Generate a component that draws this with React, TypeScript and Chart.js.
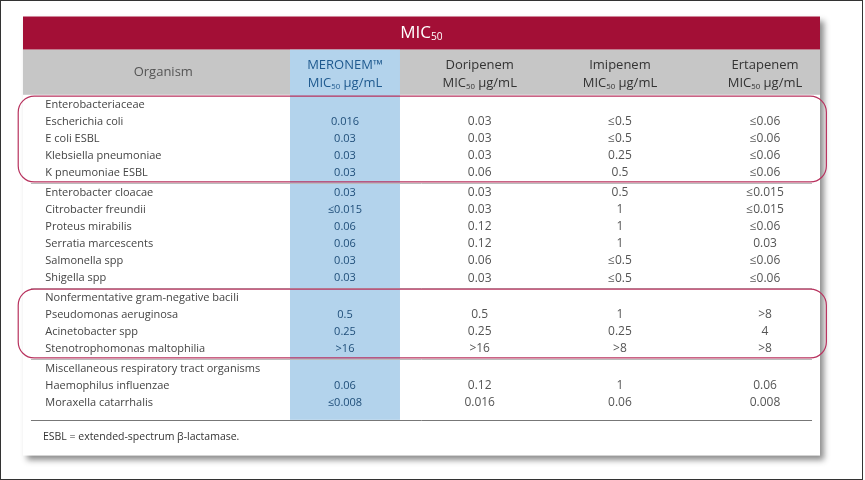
import React, { useEffect, useRef } from 'react';
import Chart from 'chart.js/auto';

const groups: string[] = [
  'Enterobacteriaceae',
  '',
  'Nonfermentative gram-negative bacili',
  'Miscellaneous respiratory tract organisms',
];
const organisms: string[][] = [
  ['Escherichia coli', 'E coli ESBL', 'Klebsiella pneumoniae', 'K pneumoniae ESBL'],
  ['Enterobacter cloacae', 'Citrobacter freundii', 'Proteus mirabilis', 'Serratia marcescents', 'Salmonella spp', 'Shigella spp'],
  ['Pseudomonas aeruginosa', 'Acinetobacter spp', 'Stenotrophomonas maltophilia'],
  ['Haemophilus influenzae', 'Moraxella catarrhalis'],
];
const meronem: string[][] = [
  ['0.016', '0.03', '0.03', '0.03'],
  ['0.03', '≤0.015', '0.06', '0.06', '0.03', '0.03'],
  ['0.5', '0.25', '>16'],
  ['0.06', '≤0.008'],
];
const doripenem: string[][] = [
  ['0.03', '0.03', '0.03', '0.06'],
  ['0.03', '0.03', '0.12', '0.12', '0.06', '0.03'],
  ['0.5', '0.25', '>16'],
  ['0.12', '0.016'],
];
const imipenem: string[][] = [
  ['≤0.5', '≤0.5', '0.25', '0.5'],
  ['0.5', '1', '1', '1', '≤0.5', '≤0.5'],
  ['1', '0.25', '>8'],
  ['1', '0.06'],
];
const ertapenem: string[][] = [
  ['≤0.06', '≤0.06', '≤0.06', '≤0.06'],
  ['≤0.015', '≤0.015', '≤0.06', '0.03', '≤0.06', '≤0.06'],
  ['>8', '4', '>8'],
  ['0.06', '0.008'],
];
const columns: string[] = ['Doripenem', 'Imipenem', 'Ertapenem'];
const footnote = 'ESBL = extended-spectrum β-lactamase.';

const FONT = '"Open Sans", sans-serif';
const GAP = 0.17;

// build row list with y positions (row units)
type Row = { label: string; vals: string[]; group: number; pos: number };
const rows: Row[] = [];
let idx = 0;
groups.forEach((g, gi) => {
  if (g) {
    rows.push({ label: g, vals: [], group: gi, pos: idx + gi * GAP });
    idx++;
  }
  organisms[gi].forEach((o, oi) => {
    rows.push({
      label: o,
      vals: [meronem[gi][oi], doripenem[gi][oi], imipenem[gi][oi], ertapenem[gi][oi]],
      group: gi,
      pos: idx + gi * GAP,
    });
    idx++;
  });
});

const colX = [4.04, 5.73, 7.49, 9.31];

function drawMic(ctx: CanvasRenderingContext2D, x: number, y: number, size: number, suffix: string) {
  ctx.font = `${size}px ${FONT}`;
  const a = ctx.measureText('MIC').width;
  ctx.font = `${size * 0.6}px ${FONT}`;
  const b = ctx.measureText('50').width;
  ctx.font = `${size}px ${FONT}`;
  const c = ctx.measureText(suffix).width;
  let sx = x - (a + b + c) / 2;
  ctx.textAlign = 'left';
  ctx.fillText('MIC', sx, y);
  ctx.font = `${size * 0.6}px ${FONT}`;
  ctx.fillText('50', sx + a, y + size * 0.25);
  ctx.font = `${size}px ${FONT}`;
  ctx.fillText(suffix, sx + a + b, y);
}

const tablePlugin = {
  id: 'table',
  beforeDraw(chart: Chart) {
    const ctx = chart.ctx;
    const xs = chart.scales.x;
    const ys = chart.scales.y;
    const X = (v: number) => xs.getPixelForValue(v);
    const Y = (v: number) => ys.getPixelForValue(v);
    const L = X(0), R = X(10);
    const top = Y(-5.2), bottom = Y(18.5);
    ctx.save();
    ctx.fillStyle = '#fff';
    ctx.fillRect(0, 0, chart.width, chart.height);
    ctx.strokeStyle = '#333';
    ctx.lineWidth = 1;
    ctx.strokeRect(0.5, 0.5, chart.width - 3, chart.height - 1);
    // shadowed sheet
    ctx.shadowColor = 'rgba(0,0,0,0.45)';
    ctx.shadowBlur = 6;
    ctx.shadowOffsetX = 4;
    ctx.shadowOffsetY = 4;
    ctx.fillRect(L, top, R - L, Y(20.6) - top);
    ctx.restore();
    ctx.save();
    // red title band
    ctx.fillStyle = '#a30f36';
    ctx.fillRect(L, top, R - L, Y(-3.25) - top);
    // gray header
    ctx.fillStyle = '#c6c6c6';
    ctx.fillRect(L, Y(-3.25), R - L, Y(-0.6) - Y(-3.25));
    // blue column
    ctx.fillStyle = '#b3d3ec';
    ctx.fillRect(X(3.35), Y(-3.25), X(4.73) - X(3.35), bottom - Y(-3.25));
    // title
    ctx.fillStyle = '#fff';
    ctx.textBaseline = 'middle';
    drawMic(ctx, X(5) , Y(-4.25), 17, '');
    // headers
    ctx.fillStyle = '#555';
    ctx.textAlign = 'center';
    ctx.font = `13px ${FONT}`;
    ctx.fillText('Organism', X(1.76), Y(-1.9));
    ctx.fillStyle = '#1f5a8f';
    ctx.font = `13px ${FONT}`;
    ctx.fillText('MERONEM™', X(colX[0]), Y(-2.35));
    drawMic(ctx, X(colX[0]), Y(-1.25), 13, ' µg/mL');
    columns.forEach((c, i) => {
      ctx.fillStyle = '#333';
      ctx.textAlign = 'center';
      ctx.font = `13px ${FONT}`;
      ctx.fillText(c, X(colX[i + 1]), Y(-2.35));
      drawMic(ctx, X(colX[i + 1]), Y(-1.25), 13, ' µg/mL');
    });
    // rows
    rows.forEach((r) => {
      ctx.textAlign = 'left';
      ctx.font = `11px ${FONT}`;
      ctx.fillStyle = '#444';
      ctx.fillText(r.label, X(0.28), Y(r.pos));
      r.vals.forEach((v, i) => {
        ctx.textAlign = 'center';
        ctx.fillStyle = i === 0 ? '#1f4e79' : '#555';
        ctx.font = `${i === 0 ? 11 : 12}px ${FONT}`;
        ctx.fillText(v, X(colX[i]), Y(r.pos));
      });
    });
    // separators
    const lastPos = (gi: number) => Math.max(...rows.filter((r) => r.group === gi).map((r) => r.pos));
    ctx.strokeStyle = '#bbb';
    ctx.lineWidth = 1;
    [0, 1, 2].forEach((gi) => {
      const y = Math.round(Y(lastPos(gi) + 0.58)) + 0.5;
      ctx.beginPath();
      ctx.moveTo(X(0.1), y);
      ctx.lineTo(X(9.9), y);
      ctx.stroke();
    });
    ctx.strokeStyle = '#777';
    ctx.beginPath();
    ctx.moveTo(X(0.1), Math.round(bottom) + 0.5);
    ctx.lineTo(X(9.9), Math.round(bottom) + 0.5);
    ctx.stroke();
    // highlight frames
    ctx.strokeStyle = '#b8325e';
    ctx.lineWidth = 1.2;
    [0, 2].forEach((gi) => {
      const g = rows.filter((r) => r.group === gi);
      const y0 = Y(g[0].pos - 0.52), y1 = Y(g[g.length - 1].pos + 0.52);
      ctx.beginPath();
      ctx.roundRect(X(-0.06), y0, X(10.08) - X(-0.06), y1 - y0, 16);
      ctx.stroke();
    });
    // footnote
    ctx.fillStyle = '#333';
    ctx.textAlign = 'left';
    ctx.font = `10.5px ${FONT}`;
    ctx.fillText(footnote, X(0.25), Y(19.5));
    ctx.restore();
  },
};

const App: React.FC = () => {
  const ref = useRef<HTMLCanvasElement | null>(null);

  useEffect(() => {
    if (!ref.current) return;
    const chart = new Chart(ref.current, {
      type: 'scatter',
      data: { datasets: [{ data: [], pointRadius: 0 }] },
      options: {
        responsive: false,
        animation: false,
        layout: { padding: { left: 23, right: 45, top: 105, bottom: 77 } },
        plugins: { legend: { display: false }, tooltip: { enabled: false } },
        scales: {
          x: { type: 'linear', min: 0, max: 10, display: false },
          y: { type: 'linear', min: 0, max: 17 + 3 * GAP, reverse: true, display: false },
        },
      },
      plugins: [tablePlugin],
    });
    return () => chart.destroy();
  }, []);

  return (
    <div style={{ position: 'absolute', left: 0, top: 0, width: 865, height: 480 }}>
      <canvas ref={ref} width={865} height={480}></canvas>
    </div>
  );
};

export default App;
